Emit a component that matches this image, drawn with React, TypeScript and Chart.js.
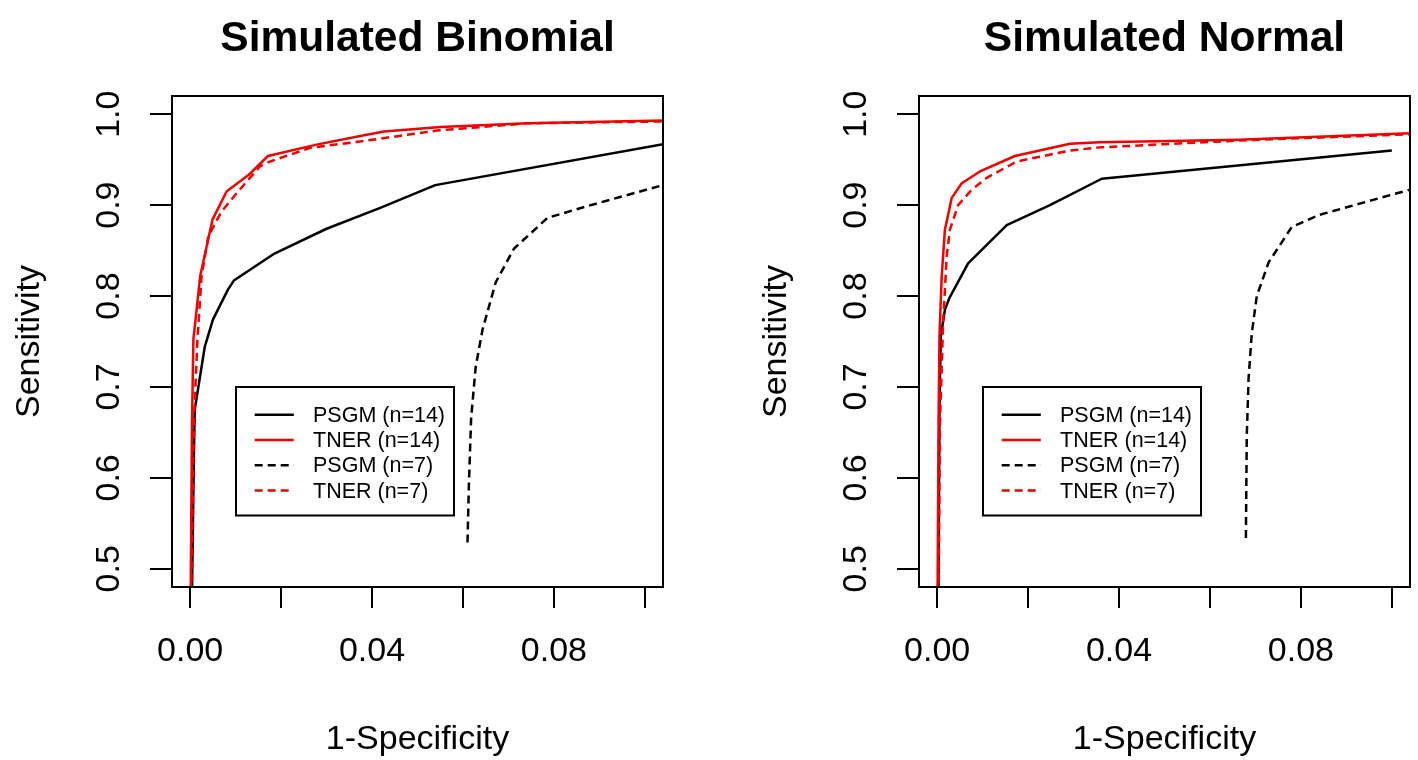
import React, { useEffect, useRef } from "react";
import { Chart, registerables } from "chart.js";

Chart.register(...registerables);

const FONT = "'Liberation Sans', Arial, Helvetica, sans-serif";

// ---- axes / ticks ----
const xMin = -0.004;
const xMax = 0.104;
const xStep = 0.02;
const xTickLabels = ["0.00", "0.04", "0.08"];
const yMin = 0.48;
const yMax = 1.02;
const yStep = 0.1;
const yTickLabels = ["0.5", "0.6", "0.7", "0.8", "0.9", "1.0"];

// ---- series meta ----
const seriesLabels = ["PSGM (n=14)", "TNER (n=14)", "PSGM (n=7)", "TNER (n=7)"];
const seriesColors = ["#000000", "#f00000", "#000000", "#f00000"];
const seriesDashed = [false, false, true, true];
const seriesOrder = [2, 0, 3, 1];

// ---- Simulated Binomial ----
const binPsgm14X = [0.0002, 0.0008, 0.001, 0.0025, 0.0032, 0.005, 0.0083, 0.0096, 0.0183, 0.03, 0.0418, 0.0539, 0.104];
const binPsgm14Y = [0.4, 0.62, 0.675, 0.722, 0.744, 0.774, 0.807, 0.817, 0.846, 0.874, 0.897, 0.922, 0.967];
const binTner14X = [0.0, 0.0004, 0.0007, 0.0022, 0.0049, 0.008, 0.0128, 0.0171, 0.0278, 0.0374, 0.0426, 0.0551, 0.0742, 0.104];
const binTner14Y = [0.4, 0.66, 0.752, 0.822, 0.884, 0.915, 0.933, 0.954, 0.9665, 0.976, 0.981, 0.986, 0.99, 0.993];
const binPsgm7X = [0.061, 0.0613, 0.0618, 0.0628, 0.0643, 0.0672, 0.0712, 0.0786, 0.0874, 0.104];
const binPsgm7Y = [0.529, 0.592, 0.666, 0.722, 0.763, 0.815, 0.852, 0.886, 0.899, 0.922];
const binTner7X = [0.0, 0.0008, 0.0016, 0.0025, 0.004, 0.0069, 0.0102, 0.0154, 0.0176, 0.0264, 0.0374, 0.0543, 0.0742, 0.104];
const binTner7Y = [0.4, 0.66, 0.752, 0.822, 0.866, 0.893, 0.913, 0.943, 0.948, 0.963, 0.97, 0.982, 0.99, 0.992];

// ---- Simulated Normal ----
const normPsgm14X = [0.0002, 0.0005, 0.0008, 0.0017, 0.0027, 0.0068, 0.0153, 0.0248, 0.0362, 0.1];
const normPsgm14Y = [0.4, 0.68, 0.756, 0.785, 0.798, 0.836, 0.878, 0.9, 0.929, 0.96];
const normTner14X = [0.0, 0.0003, 0.0005, 0.001, 0.0017, 0.0032, 0.0054, 0.0094, 0.0171, 0.0292, 0.0358, 0.0663, 0.104];
const normTner14Y = [0.4, 0.66, 0.756, 0.822, 0.873, 0.908, 0.924, 0.937, 0.954, 0.9675, 0.969, 0.972, 0.979];
const normPsgm7X = [0.0679, 0.0681, 0.0685, 0.0692, 0.0703, 0.0729, 0.078, 0.0839, 0.104];
const normPsgm7Y = [0.534, 0.647, 0.71, 0.759, 0.8, 0.837, 0.876, 0.889, 0.917];
const normTner7X = [0.0002, 0.0006, 0.0013, 0.0021, 0.0028, 0.0046, 0.0076, 0.0109, 0.0175, 0.0292, 0.0358, 0.0663, 0.104];
const normTner7Y = [0.4, 0.66, 0.77, 0.844, 0.873, 0.9, 0.917, 0.93, 0.948, 0.96, 0.9635, 0.971, 0.978];

const DASH = [8, 5];
const LW = 2.5;

function makeDatasets(xs: number[][], ys: number[][]) {
  return xs.map((xv, i) => ({
    label: seriesLabels[i],
    data: xv.map((x, j) => ({ x, y: ys[i][j] })),
    borderColor: seriesColors[i],
    backgroundColor: seriesColors[i],
    borderWidth: LW,
    borderDash: seriesDashed[i] ? DASH : [],
    borderJoinStyle: "round" as const,
    showLine: true,
    pointRadius: 0,
    pointHoverRadius: 0,
    tension: 0,
    fill: false,
    clip: 0,
    order: seriesOrder[i],
  }));
}

const framePlugin = {
  id: "frameBox",
  afterDraw(chart: any) {
    const { ctx, chartArea: a } = chart;
    ctx.save();
    ctx.strokeStyle = "#000";
    ctx.lineWidth = 2;
    ctx.strokeRect(a.left, a.top, a.right - a.left, a.bottom - a.top);
    ctx.restore();
  },
};

const legendPlugin = {
  id: "insideLegend",
  afterDraw(chart: any) {
    const { ctx, chartArea: a } = chart;
    const bx = a.left + 64;
    const by = a.top + 291;
    const bw = 218;
    const bh = 128.5;
    ctx.save();
    ctx.fillStyle = "#fff";
    ctx.fillRect(bx, by, bw, bh);
    ctx.lineWidth = 2;
    ctx.strokeStyle = "#000";
    ctx.strokeRect(bx, by, bw, bh);
    ctx.font = `21.5px ${FONT}`;
    ctx.textBaseline = "middle";
    ctx.textAlign = "left";
    chart.data.datasets.forEach((ds: any, i: number) => {
      const yy = by + 27.7 + i * 25.3;
      ctx.beginPath();
      ctx.setLineDash(ds.borderDash || []);
      ctx.strokeStyle = ds.borderColor;
      ctx.lineWidth = LW;
      ctx.moveTo(bx + 18.7, yy);
      ctx.lineTo(bx + 57.8, yy);
      ctx.stroke();
      ctx.setLineDash([]);
      ctx.fillStyle = "#000";
      ctx.fillText(ds.label, bx + 77, yy + 1);
    });
    ctx.restore();
  },
};

type PanelProps = {
  title: string;
  xs: number[][];
  ys: number[][];
  left: number;
  padLeft: number;
  padRight: number;
};

function Panel({ title, xs, ys, left, padLeft, padRight }: PanelProps) {
  const ref = useRef<HTMLCanvasElement>(null);
  useEffect(() => {
    const chart = new Chart(ref.current as HTMLCanvasElement, {
      type: "scatter",
      data: { datasets: makeDatasets(xs, ys) as any },
      options: {
        responsive: false,
        animation: false,
        events: [],
        layout: { padding: { left: padLeft, right: padRight, top: 0, bottom: 0 } },
        plugins: {
          legend: { display: false },
          tooltip: { enabled: false },
          title: {
            display: true,
            text: title,
            color: "#000",
            fullSize: false,
            font: { family: FONT, size: 42.5, weight: "bold", lineHeight: 1.2 },
            padding: { top: 13.5, bottom: 31.5 },
          },
        },
        scales: {
          x: {
            type: "linear",
            min: xMin,
            max: xMax,
            afterFit: (s: any) => {
              s.height = 173;
            },
            ticks: {
              stepSize: xStep,
              includeBounds: false,
              autoSkip: false,
              maxRotation: 0,
              minRotation: 0,
              color: "#000",
              padding: 23,
              font: { family: FONT, size: 34 },
              callback: (v: any) => {
                const s = Number(v).toFixed(2);
                return xTickLabels.includes(s) ? s : "";
              },
            },
            grid: {
              drawOnChartArea: false,
              drawTicks: true,
              tickLength: 21,
              lineWidth: 2,
              color: "#000",
            },
            border: { display: true, width: 2, color: "#000" },
            title: {
              display: true,
              text: "1-Specificity",
              color: "#000",
              font: { family: FONT, size: 34, lineHeight: 1.2 },
              padding: { top: 0, bottom: 0 },
            },
          },
          y: {
            type: "linear",
            min: yMin,
            max: yMax,
            afterFit: (s: any) => {
              s.width = 172;
            },
            ticks: {
              stepSize: yStep,
              includeBounds: false,
              autoSkip: false,
              minRotation: 90,
              maxRotation: 90,
              crossAlign: "center",
              color: "#000",
              padding: 17,
              font: { family: FONT, size: 34 },
              callback: (v: any) => {
                const s = Number(v).toFixed(1);
                return yTickLabels.includes(s) ? s : "";
              },
            },
            grid: {
              drawOnChartArea: false,
              drawTicks: true,
              tickLength: 22,
              lineWidth: 2,
              color: "#000",
            },
            border: { display: true, width: 2, color: "#000" },
            title: {
              display: true,
              text: "Sensitivity",
              color: "#000",
              font: { family: FONT, size: 34, lineHeight: 1.2 },
              padding: { top: 9.6, bottom: 0 },
            },
          },
        },
      } as any,
      plugins: [framePlugin, legendPlugin],
    });
    return () => chart.destroy();
  }, []);
  return (
    <div style={{ position: "absolute", left, top: 0, width: 709, height: 760 }}>
      <canvas ref={ref} width={709} height={760} style={{ display: "block" }} />
    </div>
  );
}

export default function App() {
  return (
    <div
      style={{
        position: "absolute",
        left: 0,
        top: 0,
        width: 1418,
        height: 760,
        background: "#fff",
        overflow: "hidden",
      }}
    >
      <Panel
        title="Simulated Binomial"
        xs={[binPsgm14X, binTner14X, binPsgm7X, binTner7X]}
        ys={[binPsgm14Y, binTner14Y, binPsgm7Y, binTner7Y]}
        left={0}
        padLeft={0}
        padRight={46}
      />
      <Panel
        title="Simulated Normal"
        xs={[normPsgm14X, normTner14X, normPsgm7X, normTner7X]}
        ys={[normPsgm14Y, normTner14Y, normPsgm7Y, normTner7Y]}
        left={709}
        padLeft={38}
        padRight={8}
      />
    </div>
  );
}
